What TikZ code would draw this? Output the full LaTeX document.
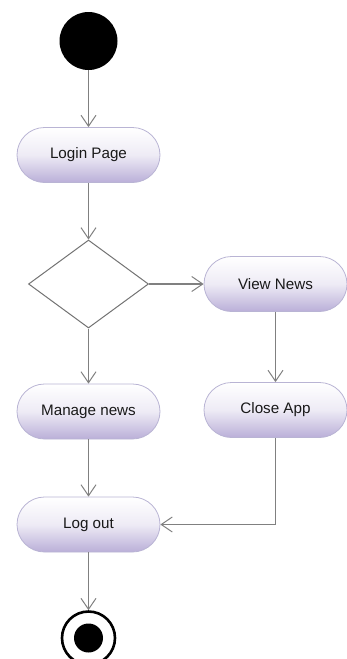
\documentclass[tikz,border=0pt]{standalone}
\usepackage{fontspec}
\setmainfont{Liberation Sans}
\usetikzlibrary{arrows.meta,shapes.geometric,shadows}
\definecolor{lav}{RGB}{186,175,216}
\definecolor{lavborder}{RGB}{185,180,212}
\definecolor{conn}{RGB}{128,128,128}
\definecolor{txt}{RGB}{25,25,25}
\begin{document}
\begin{tikzpicture}[x=1pt,y=-1pt,
  action/.style={draw=lavborder, line width=0.8pt,
    rounded corners=27.5pt, minimum width=143pt, minimum height=55pt,
    top color=white, bottom color=lav, middle color=white!75!lav,
    font=\fontsize{15.2}{18}\selectfont, text=txt, inner sep=0pt},
  decision/.style={diamond, draw=conn!90!black, line width=1pt, fill=white,
    minimum width=120pt, minimum height=88pt, aspect=1.364, inner sep=0pt},
  flow/.style={draw=conn, line width=1.3pt,
    -{Straight Barb[length=11pt,width=15pt,line width=1pt]}},
  startnode/.style={circle, fill=black, minimum size=58pt, inner sep=0pt},
  endouter/.style={circle, draw=black, line width=2.6pt, fill=white, minimum size=53pt, inner sep=0pt},
  endinner/.style={circle, fill=black, minimum size=29pt, inner sep=0pt}]
\useasboundingbox (0,0) rectangle (347,659);
\node[startnode] (start) at (88.5,41) {};
\node[action] (login) at (88.5,155) {Login Page};
\node[decision] (dec) at (88.5,284) {};
\node[action] (view) at (275.5,284) {View News};
\node[action] (manage) at (88.5,411.5) {Manage news};
\node[action] (close) at (275.5,410) {Close App};
\node[action] (logout) at (88.5,524.5) {Log out};
\node[endouter] (end) at (88.5,638) {};
\node[endinner] (endin) at (88.5,638) {};
\draw[flow] (start) -- (login);
\draw[flow] (login) -- (dec);
\draw[flow] (dec.east) -- (view.west);
\draw[flow] (dec.south) -- (manage.north);
\draw[flow] (view) -- (close);
\draw[flow] (manage) -- (logout);
\draw[flow] (close.south) |- (logout.east);
\draw[flow] (logout) -- (end);
\end{tikzpicture}
\end{document}
